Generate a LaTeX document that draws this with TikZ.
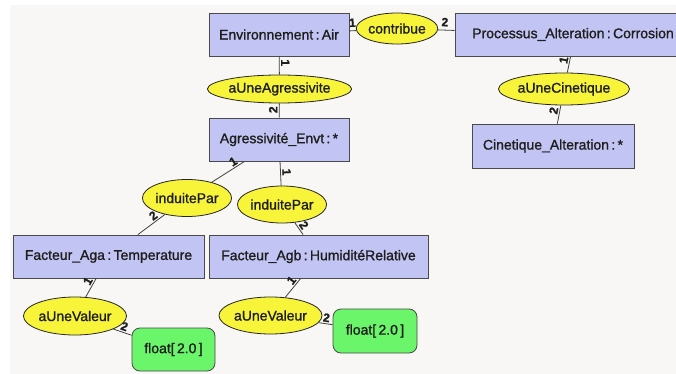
\documentclass[tikz,border=0pt]{standalone}
\usepackage{fontspec}
\setmainfont{Liberation Sans}[FakeBold=1.2]
\usetikzlibrary{shapes.geometric}
\definecolor{boxblue}{HTML}{C2C5F3}
\definecolor{ellyel}{HTML}{F7F43A}
\definecolor{litgreen}{HTML}{6AF56A}
\definecolor{txt}{HTML}{1E1E1E}
\definecolor{bg}{HTML}{F8F7F5}
\definecolor{edge}{HTML}{4A4A4A}
\tikzset{
  concept/.style={draw=edge, line width=0.8pt, fill=boxblue, minimum height=43pt, inner sep=0pt, text=txt, font=\fontsize{14}{16}\selectfont},
  rel/.style={ellipse, draw=black!85, line width=0.8pt, fill=ellyel, inner sep=0pt, text=txt, font=\fontsize{14}{16}\selectfont},
  lit/.style={draw=edge, line width=0.8pt, fill=litgreen, rounded corners=8pt, inner sep=0pt, text=txt, font=\fontsize{14}{16}\selectfont},
  card/.style={sloped, inner sep=0.5pt, text=txt, font=\bfseries\fontsize{12}{12}\selectfont},
  conn/.style={draw=black!75, line width=0.8pt}
}
\begin{document}
\begin{tikzpicture}[x=1pt,y=-1pt]
\useasboundingbox (0,0) rectangle (676,374);
\clip (0,0) rectangle (676,374);
\fill[white] (0,0) rectangle (676,374);
\fill[bg] (10,5) rectangle (676,374);

% concepts
\node[concept, minimum width=140pt] (env) at (279,34.5) {Environnement\,:\,Air};
\node[concept, minimum width=240pt] (proc) at (575,34.5) {\hspace*{-4pt}Processus\_Alteration\,:\,Corrosion};
\node[concept, minimum width=140pt] (agg) at (279,139.5) {Agressivité\_Envt\,:\,*};
\node[concept, minimum width=162pt, minimum height=44pt] (cinb) at (553,146) {Cinetique\_Alteration\,:\,*};
\node[concept, minimum width=191pt] (faga) at (108.5,256.5) {Facteur\_Aga\,:\,Temperature};
\node[concept, minimum width=219pt] (fagb) at (318.5,256.5) {Facteur\_Agb\,:\,HumiditéRelative};

% relations
\node[rel, minimum width=75pt, minimum height=31pt] (contrib) at (397,28.5) {contribue};
\node[rel, minimum width=117pt, minimum height=28pt] (aggr) at (279.5,89) {aUneAgressivite};
\node[rel, minimum width=106pt, minimum height=32pt] (cin) at (564,89) {aUneCinetique};
\node[rel, minimum width=79pt, minimum height=37pt] (ind1) at (187,198) {induitePar};
\node[rel, minimum width=79pt, minimum height=37pt] (ind2) at (282,204.5) {induitePar};
\node[rel, minimum width=88pt, minimum height=38pt] (val1) at (75,316) {aUneValeur};
\node[rel, minimum width=89pt, minimum height=37pt] (val2) at (270.5,315.5) {aUneValeur};

% literals
\node[lit, minimum width=83pt, minimum height=43pt] (flt1) at (173.5,349.5) {float[\,2.0\,]};
\node[lit, minimum width=84pt, minimum height=44pt] (flt2) at (375,331) {float[\,2.0\,]};

% connectors
\draw[conn] (env) -- node[card, pos=0.5, above=3pt] {1} (contrib);
\draw[conn] (contrib) -- node[card, pos=0.4, above=3pt] {2} (proc);
\draw[conn] (env) -- node[card, pos=0.35, above=1pt] {1} (aggr);
\draw[conn] (aggr) -- node[card, pos=0.45, above=1pt] {2} (agg);
\draw[conn] (proc) -- node[card, pos=0.3, above=1pt] {1} (cin);
\draw[conn] (cin) -- node[card, pos=0.35, above=1pt] {2} (cinb);
\draw[conn] (agg) -- node[card, pos=0.25, above=1pt] {1} (ind1);
\draw[conn] (ind1) -- node[card, pos=0.3, above=1pt] {2} (faga);
\draw[conn] (agg) -- node[card, pos=0.45, above=1pt] {1} (ind2);
\draw[conn] (ind2) -- node[card, pos=0.5, above=1pt] {2} (fagb);
\draw[conn] (faga) -- node[card, pos=0.3, above=1pt] {1} (val1);
\draw[conn] (val1) -- node[card, pos=0.5, above=1pt] {2} (flt1);
\draw[conn] (fagb) -- node[card, pos=0.3, above=1pt] {1} (val2);
\draw[conn] (val2) -- node[card, pos=0.5, above=1pt] {2} (flt2);
\end{tikzpicture}
\end{document}
